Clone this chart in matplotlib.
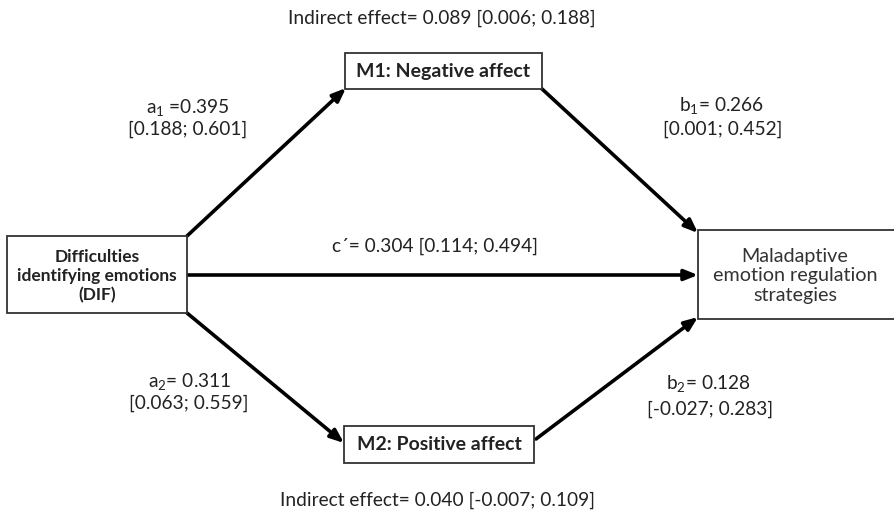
import matplotlib
matplotlib.use("Agg")
import matplotlib.pyplot as plt
from matplotlib.patches import Rectangle

plt.rcParams['font.family'] = ['Lato', 'DejaVu Sans']
plt.rcParams['mathtext.fontset'] = 'custom'
plt.rcParams['mathtext.rm'] = 'Lato'
plt.rcParams['mathtext.it'] = 'Lato:italic'

# ---- content ----
node_labels = ["Difficulties\nidentifying emotions\n(DIF)",
               "M1: Negative affect",
               "M2: Positive affect",
               "Maladaptive\nemotion regulation\nstrategies"]
node_bold = [True, True, True, False]
node_fs = [12.5, 14, 14, 14.2]
path_names = [r"a$_1$ =", r"b$_1$= ", "c\u00b4= ", r"a$_2$= ", r"b$_2$= "]
path_coefs = ["0.395", "0.266", "0.304", "0.311", "0.128"]
path_ci = ["[0.188; 0.601]", "[0.001; 0.452]", "[0.114; 0.494]",
           "[0.063; 0.559]", "[-0.027; 0.283]"]
indirect_coefs = ["0.089", "0.040"]
indirect_ci = ["[0.006; 0.188]", "[-0.007; 0.109]"]

# ---- layout (pixels) ----
W, H = 894, 513
boxes = [(7, 236, 187, 313), (345, 53, 542, 89), (344, 426, 534, 463), (698, 230, 900, 319)]
centers = [(97, 276), (443, 72), (439, 445), (795, 276)]

fig = plt.figure(figsize=(W / 100, H / 100), dpi=100)
ax = fig.add_axes([0, 0, 1, 1])
ax.set_xlim(0, W)
ax.set_ylim(H, 0)
ax.axis('off')

edge = '#333333'
for (x0, y0, x1, y1), (cx, cy), lab, b, f in zip(boxes, centers, node_labels, node_bold, node_fs):
    ax.add_patch(Rectangle((x0, y0), x1 - x0, y1 - y0, facecolor='white',
                           edgecolor=edge, lw=1.3, zorder=2))
    ax.text(cx, cy, lab, ha='center', va='center',
            fontsize=f, fontweight='bold' if b else 'normal',
            color='#222222' if b else '#333333',
            linespacing=1.25 if b else 1.2, zorder=3)

arrows = [((187, 236), (346, 88)),
          ((187, 275), (698, 275)),
          ((187, 313), (344, 443)),
          ((541, 88), (698, 233)),
          ((536, 439), (698, 317))]
for (s, e) in arrows:
    ax.annotate('', xy=e, xytext=s,
                arrowprops=dict(arrowstyle='-|>,head_length=0.8,head_width=0.32',
                                lw=2.6, color='black', shrinkA=0, shrinkB=0),
                zorder=1)

fs = 13.8
tc = '#222222'
# a1
ax.text(188, 107, path_names[0] + path_coefs[0], ha='center', va='center', fontsize=fs, color=tc)
ax.text(188, 129, path_ci[0], ha='center', va='center', fontsize=fs, color=tc)
# b1
ax.text(722, 106, path_names[1] + path_coefs[1], ha='center', va='center', fontsize=fs, color=tc)
ax.text(723, 129, path_ci[1], ha='center', va='center', fontsize=fs, color=tc)
# c'
ax.text(435, 246, path_names[2] + path_coefs[2] + " " + path_ci[2], ha='center', va='center', fontsize=fs, color=tc)
# a2
ax.text(190, 381, path_names[3] + path_coefs[3], ha='center', va='center', fontsize=fs, color=tc)
ax.text(189, 403, path_ci[3], ha='center', va='center', fontsize=fs, color=tc)
# b2
ax.text(709, 384, path_names[4] + path_coefs[4], ha='center', va='center', fontsize=fs, color=tc)
ax.text(710, 409, path_ci[4], ha='center', va='center', fontsize=fs, color=tc)
# indirect effects
ax.text(442, 18, "Indirect effect= " + indirect_coefs[0] + " " + indirect_ci[0],
        ha='center', va='center', fontsize=fs, color=tc)
ax.text(437, 500, "Indirect effect= " + indirect_coefs[1] + " " + indirect_ci[1],
        ha='center', va='center', fontsize=fs, color=tc)

fig.savefig('out.png', dpi=100, facecolor='white')
